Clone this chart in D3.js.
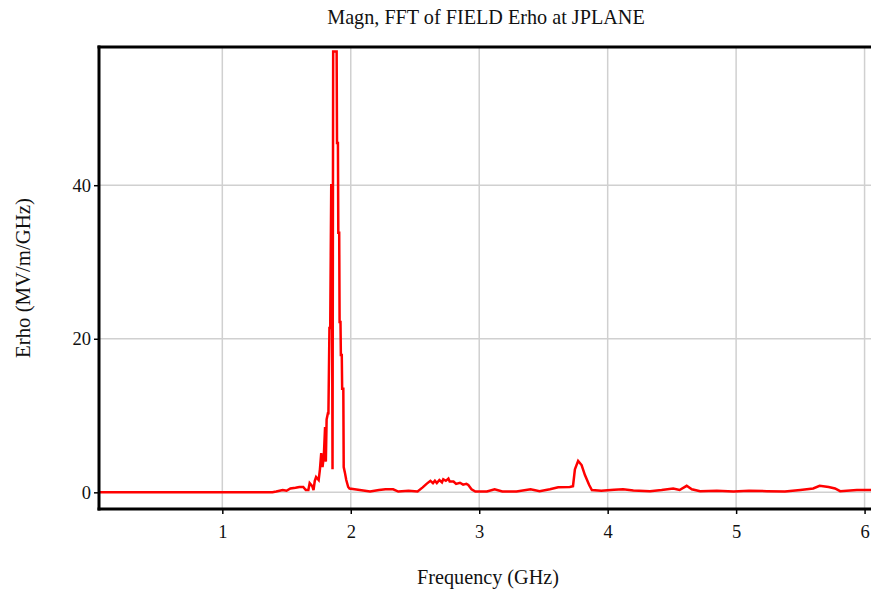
<!DOCTYPE html>
<html lang="en">

  <head>
    <meta charset="utf-8">
    <title>Magn, FFT of FIELD Erho at JPLANE</title>
    <style>
      body { margin: 0; background: #fff; }
    </style>
  </head>

  <body>

    <svg id="canvas"></svg>

    <script src="https://cdn.jsdelivr.net/npm/d3@7"></script>
    <script>

      const width = 871;
      const height = 592;

      // trace: frequency (GHz) and magnitude (MV/m/GHz)
      const freq = [
        0.04, 1.39, 1.42, 1.47, 1.50, 1.53, 1.57, 1.60, 1.63, 1.65,
        1.67, 1.68, 1.70, 1.71, 1.72, 1.73, 1.75, 1.76, 1.77, 1.78,
        1.79, 1.80, 1.806, 1.812, 1.822, 1.826, 1.834, 1.840, 1.848, 1.852,
        1.858, 1.863, 1.890, 1.893, 1.900, 1.903, 1.910, 1.913, 1.920, 1.923,
        1.930, 1.933, 1.942, 1.945, 1.954, 1.965, 1.98, 1.99, 2.03,
        2.07, 2.15, 2.22, 2.27, 2.33, 2.37, 2.45, 2.52, 2.56, 2.59,
        2.62, 2.64, 2.655, 2.67, 2.69, 2.71, 2.72, 2.74, 2.76, 2.77,
        2.80, 2.82, 2.85, 2.875, 2.90, 2.915, 2.94,
        2.97, 3.06, 3.12, 3.18, 3.29, 3.40, 3.47, 3.55, 3.615, 3.705,
        3.73, 3.745, 3.77, 3.797, 3.823, 3.856, 3.877, 3.95, 4.05, 4.12,
        4.20, 4.33, 4.42, 4.51, 4.56, 4.615, 4.655, 4.72, 4.85, 4.98,
        5.10, 5.24, 5.38, 5.50, 5.60, 5.65, 5.72, 5.77, 5.81, 5.94,
        6.05
      ];
      const erho = [
        0, 0, 0.1, 0.3, 0.2, 0.5, 0.6, 0.7, 0.7, 0.3,
        0.3, 1.2, 0.8, 0.3, 1.5, 2.0, 1.6, 3.0, 5.1, 3.3,
        4.6, 8.5, 4.0, 9.5, 10.3, 10.3, 21.4, 21.4, 40, 40,
        3, 57.4, 57.4, 45.5, 45.5, 33.8, 33.8, 22.2, 22.2, 17.9,
        17.9, 13.5, 13.5, 3.3, 2.6, 1.6, 0.7, 0.5, 0.4,
        0.3, 0.1, 0.3, 0.4, 0.4, 0.1, 0.2, 0.1, 0.65, 1.1,
        1.5, 1.2, 1.5, 1.2, 1.6, 1.3, 1.7, 1.5, 1.8, 1.4,
        1.4, 1.1, 1.25, 1.0, 1.1, 0.95, 0.4,
        0.1, 0.1, 0.4, 0.1, 0.1, 0.4, 0.15, 0.4, 0.65, 0.7,
        0.8, 3.0, 4.1, 3.55, 2.25, 0.95, 0.3, 0.2, 0.35, 0.4,
        0.25, 0.15, 0.3, 0.5, 0.3, 0.85, 0.4, 0.15, 0.2, 0.1,
        0.2, 0.15, 0.1, 0.3, 0.5, 0.85, 0.7, 0.5, 0.15, 0.3,
        0.3
      ];

      const xTicks = [1, 2, 3, 4, 5, 6];
      const yTicks = [0, 20, 40];

      const title = "Magn, FFT of FIELD Erho at JPLANE";
      const xLabel = "Frequency (GHz)";
      const yLabel = "Erho (MV/m/GHz)";

      const fontFamily = "'Liberation Serif', 'Times New Roman', serif";
      const plotLeft = 99, plotRight = 871, plotTop = 47, plotBottom = 509;

      const svg = d3.select("#canvas")
        .attr("width", width)
        .attr("height", height)
        .attr("viewBox", [0, 0, width, height])
        .style("display", "block");

      const x = d3.scaleLinear().domain([0.04, 6.05]).range([plotLeft, plotRight]);
      const y = d3.scaleLinear().domain([-2.17, 58]).range([plotBottom, plotTop]);

      // grid
      svg.append("g")
        .selectAll("line")
        .data(xTicks)
        .join("line")
          .attr("x1", d => x(d))
          .attr("x2", d => x(d))
          .attr("y1", plotTop)
          .attr("y2", plotBottom)
          .attr("stroke", "#d0d0d0")
          .attr("stroke-width", 1.5);

      svg.append("g")
        .selectAll("line")
        .data(yTicks)
        .join("line")
          .attr("x1", plotLeft)
          .attr("x2", plotRight)
          .attr("y1", d => y(d))
          .attr("y2", d => y(d))
          .attr("stroke", "#d0d0d0")
          .attr("stroke-width", 1.5);

      // trace, clipped to the plot box
      svg.append("clipPath")
        .attr("id", "plot-clip")
        .append("rect")
          .attr("x", plotLeft)
          .attr("y", plotTop)
          .attr("width", plotRight - plotLeft)
          .attr("height", plotBottom - plotTop);

      const points = freq.map((f, i) => [f, erho[i]]);
      const line = d3.line()
        .x(d => x(d[0]))
        .y(d => y(d[1]));

      svg.append("path")
        .datum(points)
        .attr("clip-path", "url(#plot-clip)")
        .attr("fill", "none")
        .attr("stroke", "#ff0000")
        .attr("stroke-width", 2.5)
        .attr("stroke-linejoin", "miter")
        .attr("d", line);

      // axes
      const xAxis = svg.append("g")
        .attr("transform", `translate(0,${plotBottom})`)
        .call(d3.axisBottom(x).tickValues(xTicks).tickFormat(d3.format("d"))
          .tickSizeInner(5).tickSizeOuter(0).tickPadding(11));

      const yAxis = svg.append("g")
        .attr("transform", `translate(${plotLeft},0)`)
        .call(d3.axisLeft(y).tickValues(yTicks).tickFormat(d3.format("d"))
          .tickSizeInner(5).tickSizeOuter(0).tickPadding(3));

      [xAxis, yAxis].forEach(g => {
        g.select(".domain").remove();
        g.selectAll(".tick line").attr("stroke", "#000").attr("stroke-width", 1.5);
        g.selectAll(".tick text")
          .attr("fill", "#111")
          .attr("font-family", fontFamily)
          .attr("font-size", 18.5);
      });

      // frame: left, bottom and top borders
      const frame = svg.append("g")
        .attr("stroke", "#000")
        .attr("stroke-width", 3);
      frame.append("line")
        .attr("x1", plotLeft).attr("x2", plotLeft)
        .attr("y1", plotTop - 1.5).attr("y2", plotBottom + 1.5);
      frame.append("line")
        .attr("x1", plotLeft - 1.5).attr("x2", plotRight)
        .attr("y1", plotBottom).attr("y2", plotBottom);
      frame.append("line")
        .attr("x1", plotLeft - 1.5).attr("x2", plotRight)
        .attr("y1", plotTop).attr("y2", plotTop);

      // titles
      svg.append("text")
        .attr("x", 486)
        .attr("y", 24)
        .attr("text-anchor", "middle")
        .attr("font-family", fontFamily)
        .attr("font-size", 20.2)
        .attr("fill", "#111")
        .text(title);

      svg.append("text")
        .attr("x", 488)
        .attr("y", 584)
        .attr("text-anchor", "middle")
        .attr("font-family", fontFamily)
        .attr("font-size", 20.2)
        .attr("fill", "#111")
        .text(xLabel);

      svg.append("text")
        .attr("transform", "translate(30,278) rotate(-90)")
        .attr("text-anchor", "middle")
        .attr("font-family", fontFamily)
        .attr("font-size", 20.8)
        .attr("fill", "#111")
        .text(yLabel);

    </script>

  </body>

</html>
